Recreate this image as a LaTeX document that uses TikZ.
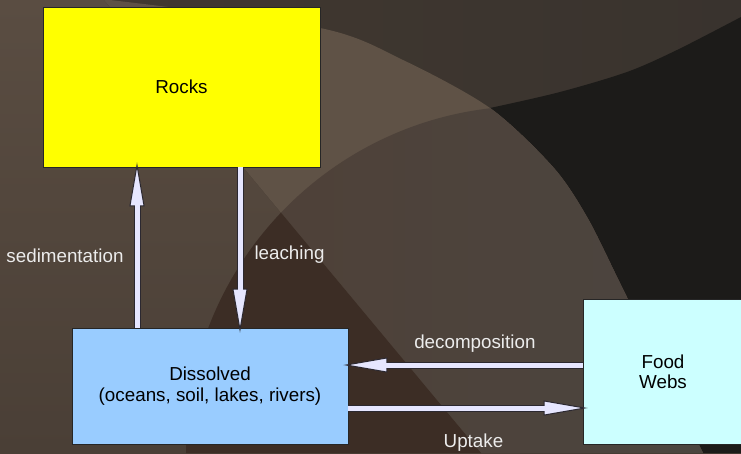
\documentclass[tikz,border=0pt]{standalone}
\usepackage{fontspec}
\setmainfont{Liberation Sans}
\usetikzlibrary{arrows.meta}

\definecolor{rockfill}{HTML}{FFFF00}
\definecolor{dissfill}{HTML}{99CCFF}
\definecolor{foodfill}{HTML}{CCFFFF}
\definecolor{flowfill}{HTML}{E6E6FF}
\definecolor{flowedge}{HTML}{2B2830}
\definecolor{labelgrey}{HTML}{ECECEC}
\definecolor{bgtop}{HTML}{5A4D42}
\definecolor{bgbot}{HTML}{4A3F36}
\definecolor{bgright}{HTML}{413830}
\definecolor{bgfar}{HTML}{39332E}
\definecolor{bgdark}{HTML}{1C1B19}
\definecolor{bglens}{HTML}{5F5246}
\definecolor{bgmidl}{HTML}{4F4037}
\definecolor{bgmidr}{HTML}{4A4742}
\definecolor{bgdeep}{HTML}{3C2D25}

\newcommand\lensoutline{plot[smooth] coordinates {(110,0) (320,28) (403,60) (490,108) (553,167) (587,217) (620,283) (703,453)} -- (481,453) -- (104,0) -- cycle}

\tikzset{
  box/.style={draw=black!85, line width=0.8pt, align=center, inner sep=0pt, text=black},
  flow/.style={draw=flowedge, line width=7pt, shorten >=-5pt,
    -{Triangle[length=44pt,width=15pt,fill=flowfill,line width=1pt]},
    postaction={draw=flowfill, line width=5pt, shorten >=36pt, -}},
  lbl/.style={text=labelgrey, inner sep=0pt}
}

\begin{document}
\begin{tikzpicture}
        [x=1pt,y=-1pt,font=\fontsize{18.8}{20.5}\selectfont]
        \useasboundingbox (0,0) rectangle (741,453);

        % background
        \shade[top color=bgtop,bottom color=bgbot] (0,0) rectangle (741,453);
        \shade[left color=bgright,right color=bgfar] (104,0) -- (741,0) -- (741,453) -- (481,453) -- cycle;
        \fill[bgdark] plot[smooth] coordinates {(440,118) (490,108) (560,92) (627,72) (677,50) (741,17)} -- (741,453) -- (520,453) -- cycle;
        \fill[bglens] \lensoutline;
        \begin{scope}
          \clip \lensoutline;
          \shade[left color=bgmidl,right color=bgmidr] (530,450) circle (344);
        \end{scope}
        \begin{scope}
          \clip (0,0) -- (104,0) -- (481,453) -- (0,453) -- cycle;
          \fill[bgdeep] (530,450) circle (344);
        \end{scope}

        \node[box,fill=rockfill,minimum width=277pt,minimum height=160pt] (rocks) at (181.5,87) {Rocks};
        \node[box,fill=dissfill,minimum width=276pt,minimum height=116pt] (dissolved) at (210,386) {\strut Dissolved\\(oceans, soil, lakes, rivers)};
        \node[box,fill=foodfill,minimum width=160pt,minimum height=145pt] (food) at (663,371.5) {\strut Food\\Webs};

        \coordinate (sedi) at (137,0);
        \coordinate (leach) at (240,0);
        \coordinate (decomp) at (0,365);
        \coordinate (upt) at (0,408);

        \draw[flow] (dissolved.north -| sedi) -- (rocks.south -| sedi)
          node[lbl,pos=0.447,anchor=east,xshift=-10pt] {sedimentation};
        \draw[flow] (rocks.south -| leach) -- (dissolved.north -| leach)
          node[lbl,pos=0.547,anchor=west,xshift=11pt] {leaching};
        \draw[flow] (food.west |- decomp) -- (dissolved.east |- decomp)
          node[lbl,pos=0.46,yshift=21pt] {decomposition};
        \draw[flow] (dissolved.east |- upt) -- (food.west |- upt)
          node[lbl,pos=0.534,yshift=-35pt] {Uptake};
\end{tikzpicture}
\end{document}
